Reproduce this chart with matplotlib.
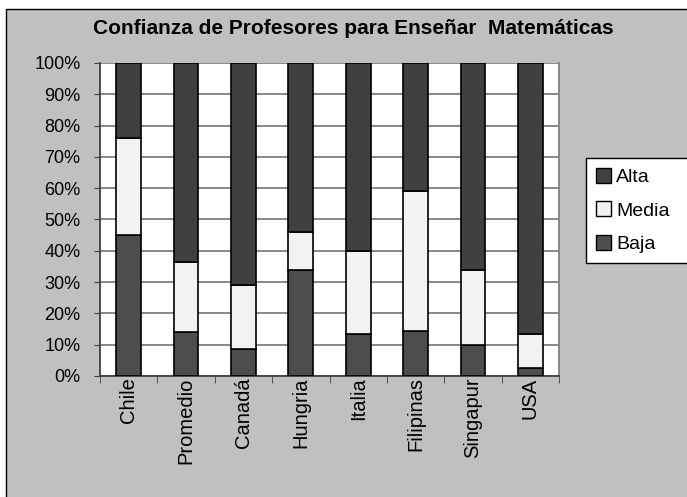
import matplotlib.pyplot as plt
import matplotlib.patches as mpatches
import numpy as np

plt.rcParams['font.family'] = ['Liberation Sans', 'DejaVu Sans']

# datos (porcentajes)
paises = ['Chile', 'Promedio', 'Canadá', 'Hungria', 'Italia', 'Filipinas', 'Singapur', 'USA']
baja = [45, 14, 8.5, 34, 13.5, 14.5, 10, 2.5]
media = [31, 22.5, 20.5, 12, 26.5, 44.5, 24, 11]
alta = [24, 63.5, 71, 54, 60, 41, 66, 86.5]

c_alta = '#404040'
c_media = '#f2f2f2'
c_baja = '#4d4d4d'

fig = plt.figure(figsize=(6.87, 4.97), dpi=100, facecolor='white')
# fondo gris con borde
fondo = mpatches.Rectangle((6 / 687, -0.01), 1, 1 - 9 / 497 + 0.01,
                           transform=fig.transFigure, facecolor='#c0c0c0',
                           edgecolor='black', lw=1, zorder=-10)
fig.patches.append(fondo)
ax = fig.add_axes([100 / 687, 1 - 376 / 497, 459 / 687, 313 / 497])
ax.set_facecolor('white')

x = np.arange(len(paises))
w = 0.43
b2 = np.array(baja) + np.array(media)
ax.bar(x, baja, w, color=c_baja, edgecolor='black', lw=1.2, zorder=3, label='Baja')
ax.bar(x, media, w, bottom=baja, color=c_media, edgecolor='black', lw=1.2, zorder=3, label='Media')
ax.bar(x, alta, w, bottom=b2, color=c_alta, edgecolor='black', lw=1.2, zorder=3, label='Alta')

ax.set_xlim(-0.5, len(paises) - 0.5)
ax.set_ylim(0, 100)
ax.set_yticks(range(0, 101, 10))
ax.set_yticklabels([f'{v}%' for v in range(0, 101, 10)], fontsize=13)
ax.yaxis.grid(True, color='#808080', lw=1.3, zorder=1)
ax.set_axisbelow(True)

ax.set_xticks(x)
ax.set_xticklabels(paises, rotation=90, fontsize=14.5)
ax.set_xticks(np.arange(-0.5, len(paises)), minor=True)
ax.tick_params(axis='x', which='major', length=0, pad=1)
ax.tick_params(axis='x', which='minor', length=5, color='#404040', direction='out')
ax.tick_params(axis='y', length=4, color='#404040', direction='out', pad=10)

for s in ['left', 'right']:
    ax.spines[s].set_color('#808080')
    ax.spines[s].set_linewidth(1.3)
ax.spines['left'].set_color('#404040')
ax.spines['top'].set_visible(False)
ax.spines['bottom'].set_color('#404040')
ax.spines['bottom'].set_linewidth(1.3)

fig.text(353 / 687, 1 - 29 / 497, 'Confianza de Profesores para Enseñar  Matemáticas',
         ha='center', va='center', fontsize=15, fontweight='bold')

h = [mpatches.Patch(facecolor=c_alta, edgecolor='black'),
     mpatches.Patch(facecolor=c_media, edgecolor='black'),
     mpatches.Patch(facecolor=c_baja, edgecolor='black')]
leg = fig.legend(h, ['Alta', 'Media', 'Baja'], loc='upper left',
                 bbox_to_anchor=(586 / 687, 1 - 158 / 497, 110 / 687, 0), mode='expand',
                 fontsize=14, frameon=True, fancybox=False,
                 handlelength=0.8, handleheight=0.8,
                 handletextpad=0.25, labelspacing=0.8, borderpad=0.5, borderaxespad=0)
leg.get_frame().set_edgecolor('black')
leg.get_frame().set_linewidth(1)
leg.get_frame().set_facecolor('white')
leg.get_frame().set_alpha(1)

fig.savefig('out.png', dpi=100)
